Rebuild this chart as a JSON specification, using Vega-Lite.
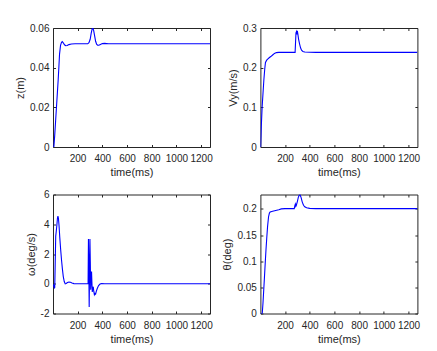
{
  "$schema": "https://vega.github.io/schema/vega-lite/v6.json",
  "background": "white",
  "padding": {"left": 14, "top": 22, "right": 5, "bottom": 5},
  "bounds": "flush",
  "columns": 2,
  "spacing": {"row": 47.5, "column": 50.4},
  "datasets": {
    "z": [
      {"t": 1, "v": 0}, {"t": 8, "v": 0}, {"t": 15, "v": 0.006}, {"t": 22, "v": 0.013}, {"t": 30, "v": 0.021},
      {"t": 37, "v": 0.028}, {"t": 43, "v": 0.034}, {"t": 49, "v": 0.041}, {"t": 54, "v": 0.047}, {"t": 62, "v": 0.0514},
      {"t": 70, "v": 0.053}, {"t": 76, "v": 0.0533}, {"t": 84, "v": 0.0527}, {"t": 94, "v": 0.0517}, {"t": 104, "v": 0.0512},
      {"t": 116, "v": 0.0513}, {"t": 130, "v": 0.0518}, {"t": 150, "v": 0.0521}, {"t": 180, "v": 0.0522}, {"t": 282, "v": 0.0522},
      {"t": 292, "v": 0.0528}, {"t": 302, "v": 0.0545}, {"t": 310, "v": 0.0575}, {"t": 318, "v": 0.0598}, {"t": 324, "v": 0.0601},
      {"t": 330, "v": 0.059}, {"t": 338, "v": 0.0562}, {"t": 346, "v": 0.0535}, {"t": 354, "v": 0.052}, {"t": 362, "v": 0.0515},
      {"t": 372, "v": 0.0515}, {"t": 385, "v": 0.0519}, {"t": 400, "v": 0.0523}, {"t": 420, "v": 0.0524}, {"t": 450, "v": 0.0522},
      {"t": 1272, "v": 0.0522}
    ],
    "vy": [
      {"t": 1, "v": 0}, {"t": 3, "v": 0}, {"t": 8, "v": 0.05}, {"t": 15, "v": 0.1}, {"t": 22, "v": 0.135},
      {"t": 29, "v": 0.169}, {"t": 36, "v": 0.196}, {"t": 42, "v": 0.213}, {"t": 52, "v": 0.219}, {"t": 62, "v": 0.222},
      {"t": 72, "v": 0.225}, {"t": 85, "v": 0.228}, {"t": 100, "v": 0.232}, {"t": 115, "v": 0.236}, {"t": 130, "v": 0.238},
      {"t": 150, "v": 0.2385}, {"t": 282, "v": 0.2385}, {"t": 285, "v": 0.26}, {"t": 289, "v": 0.288}, {"t": 293, "v": 0.291},
      {"t": 296, "v": 0.284}, {"t": 300, "v": 0.293}, {"t": 304, "v": 0.285}, {"t": 310, "v": 0.272}, {"t": 318, "v": 0.26},
      {"t": 326, "v": 0.25}, {"t": 334, "v": 0.244}, {"t": 345, "v": 0.241}, {"t": 360, "v": 0.2395}, {"t": 400, "v": 0.239},
      {"t": 450, "v": 0.2385}, {"t": 1272, "v": 0.2385}
    ],
    "w": [
      {"t": 1, "v": -0.05}, {"t": 6, "v": -0.1}, {"t": 12, "v": -0.28}, {"t": 15, "v": -0.25}, {"t": 18, "v": 1.0},
      {"t": 23, "v": 3.2}, {"t": 27, "v": 3.5}, {"t": 32, "v": 3.9}, {"t": 37, "v": 4.4}, {"t": 41, "v": 4.55},
      {"t": 45, "v": 4.4}, {"t": 50, "v": 3.9}, {"t": 56, "v": 3.1}, {"t": 63, "v": 2.3}, {"t": 70, "v": 1.6},
      {"t": 77, "v": 1.0}, {"t": 84, "v": 0.5}, {"t": 92, "v": 0.15}, {"t": 100, "v": 0.0}, {"t": 108, "v": 0.02},
      {"t": 118, "v": 0.08}, {"t": 130, "v": 0.12}, {"t": 142, "v": 0.1}, {"t": 155, "v": 0.05}, {"t": 170, "v": 0.01},
      {"t": 190, "v": 0}, {"t": 285, "v": 0}, {"t": 288, "v": 3.0}, {"t": 291, "v": 1.0}, {"t": 294, "v": -1.56},
      {"t": 297, "v": 0.8}, {"t": 300, "v": 3.0}, {"t": 303, "v": 1.5}, {"t": 306, "v": -0.4}, {"t": 310, "v": 0.3},
      {"t": 313, "v": 0.83}, {"t": 316, "v": 0.1}, {"t": 319, "v": -0.55}, {"t": 323, "v": -0.3}, {"t": 327, "v": -0.2},
      {"t": 331, "v": -0.5}, {"t": 336, "v": -0.74}, {"t": 341, "v": -0.65}, {"t": 346, "v": -0.7}, {"t": 352, "v": -0.5},
      {"t": 360, "v": -0.3}, {"t": 370, "v": -0.12}, {"t": 382, "v": -0.02}, {"t": 395, "v": 0.02}, {"t": 420, "v": 0},
      {"t": 1272, "v": 0}
    ],
    "th": [
      {"t": 1, "v": 0}, {"t": 16, "v": 0}, {"t": 22, "v": 0.02}, {"t": 28, "v": 0.045}, {"t": 34, "v": 0.07},
      {"t": 40, "v": 0.096}, {"t": 46, "v": 0.121}, {"t": 52, "v": 0.143}, {"t": 59, "v": 0.166}, {"t": 67, "v": 0.185},
      {"t": 74, "v": 0.192}, {"t": 80, "v": 0.194}, {"t": 100, "v": 0.1955}, {"t": 125, "v": 0.197}, {"t": 150, "v": 0.1985},
      {"t": 170, "v": 0.2}, {"t": 200, "v": 0.2005}, {"t": 275, "v": 0.2005}, {"t": 280, "v": 0.206}, {"t": 284, "v": 0.209},
      {"t": 288, "v": 0.205}, {"t": 292, "v": 0.207}, {"t": 300, "v": 0.214}, {"t": 308, "v": 0.222}, {"t": 316, "v": 0.2265},
      {"t": 322, "v": 0.227}, {"t": 330, "v": 0.222}, {"t": 340, "v": 0.213}, {"t": 350, "v": 0.207}, {"t": 360, "v": 0.204},
      {"t": 375, "v": 0.202}, {"t": 400, "v": 0.201}, {"t": 450, "v": 0.2005}, {"t": 1272, "v": 0.2005}
    ]
  },
  "concat": [
    {
      "width": 157, "height": 119,
      "data": {"name": "z"},
      "layer": [
        {"mark": {"type": "line", "color": "#0000ff", "strokeWidth": 1.1, "clip": true},
         "encoding": {
           "x": {"field": "t", "type": "quantitative", "scale": {"domain": [1, 1272], "nice": false, "zero": false},
                 "axis": {"values": [200, 400, 600, 800, 1000, 1200], "title": "time(ms)", "format": "d"}},
           "y": {"field": "v", "type": "quantitative", "scale": {"domain": [0, 0.0602], "nice": false, "zero": false},
                 "axis": {"values": [0, 0.02, 0.04, 0.06], "title": "z(m)", "format": "~g"}}
         }},
        {"mark": {"type": "line", "opacity": 0},
         "encoding": {
           "x": {"field": "t", "type": "quantitative", "axis": {"orient": "top", "values": [200, 400, 600, 800, 1000, 1200], "labels": false, "title": null}},
           "y": {"field": "v", "type": "quantitative", "axis": {"orient": "right", "values": [0, 0.02, 0.04, 0.06], "labels": false, "title": null}}
         }}
      ],
      "resolve": {"axis": {"x": "independent", "y": "independent"}}
    },
    {
      "width": 157, "height": 119,
      "data": {"name": "vy"},
      "layer": [
        {"mark": {"type": "line", "color": "#0000ff", "strokeWidth": 1.1, "clip": true},
         "encoding": {
           "x": {"field": "t", "type": "quantitative", "scale": {"domain": [1, 1272], "nice": false, "zero": false},
                 "axis": {"values": [200, 400, 600, 800, 1000, 1200], "title": "time(ms)", "format": "d"}},
           "y": {"field": "v", "type": "quantitative", "scale": {"domain": [0, 0.3], "nice": false, "zero": false},
                 "axis": {"values": [0, 0.1, 0.2, 0.3], "title": "Vy(m/s)", "format": "~g"}}
         }},
        {"mark": {"type": "line", "opacity": 0},
         "encoding": {
           "x": {"field": "t", "type": "quantitative", "axis": {"orient": "top", "values": [200, 400, 600, 800, 1000, 1200], "labels": false, "title": null}},
           "y": {"field": "v", "type": "quantitative", "axis": {"orient": "right", "values": [0, 0.1, 0.2, 0.3], "labels": false, "title": null}}
         }}
      ],
      "resolve": {"axis": {"x": "independent", "y": "independent"}}
    },
    {
      "width": 157, "height": 119,
      "data": {"name": "w"},
      "layer": [
        {"mark": {"type": "line", "color": "#0000ff", "strokeWidth": 1.1, "clip": true},
         "encoding": {
           "x": {"field": "t", "type": "quantitative", "scale": {"domain": [1, 1272], "nice": false, "zero": false},
                 "axis": {"values": [200, 400, 600, 800, 1000, 1200], "title": "time(ms)", "format": "d"}},
           "y": {"field": "v", "type": "quantitative", "scale": {"domain": [-2, 6], "nice": false, "zero": false},
                 "axis": {"values": [-2, 0, 2, 4, 6], "title": "ω(deg/s)", "format": "~g", "labelExpr": "replace(datum.label, '−', '-')"}}
         }},
        {"mark": {"type": "line", "opacity": 0},
         "encoding": {
           "x": {"field": "t", "type": "quantitative", "axis": {"orient": "top", "values": [200, 400, 600, 800, 1000, 1200], "labels": false, "title": null}},
           "y": {"field": "v", "type": "quantitative", "axis": {"orient": "right", "values": [-2, 0, 2, 4, 6], "labels": false, "title": null}}
         }}
      ],
      "resolve": {"axis": {"x": "independent", "y": "independent"}}
    },
    {
      "width": 157, "height": 119,
      "data": {"name": "th"},
      "layer": [
        {"mark": {"type": "line", "color": "#0000ff", "strokeWidth": 1.1, "clip": true},
         "encoding": {
           "x": {"field": "t", "type": "quantitative", "scale": {"domain": [1, 1272], "nice": false, "zero": false},
                 "axis": {"values": [200, 400, 600, 800, 1000, 1200], "title": "time(ms)", "format": "d"}},
           "y": {"field": "v", "type": "quantitative", "scale": {"domain": [0, 0.2275], "nice": false, "zero": false},
                 "axis": {"values": [0, 0.05, 0.1, 0.15, 0.2], "title": "θ(deg)", "format": "~g"}}
         }},
        {"mark": {"type": "line", "opacity": 0},
         "encoding": {
           "x": {"field": "t", "type": "quantitative", "axis": {"orient": "top", "values": [200, 400, 600, 800, 1000, 1200], "labels": false, "title": null}},
           "y": {"field": "v", "type": "quantitative", "axis": {"orient": "right", "values": [0, 0.05, 0.1, 0.15, 0.2], "labels": false, "title": null}}
         }}
      ],
      "resolve": {"axis": {"x": "independent", "y": "independent"}}
    }
  ],
  "config": {
    "font": "Liberation Sans",
    "view": {"stroke": "#262626", "strokeWidth": 1},
    "axis": {
      "grid": false, "domain": false,
      "tickSize": -2.5, "tickColor": "#262626", "tickWidth": 1,
      "labelOverlap": false, "labelFlush": false,
      "labelFont": "Liberation Sans", "labelFontSize": 10, "labelColor": "#262626",
      "titleFont": "Liberation Sans", "titleFontSize": 11, "titleFontWeight": "normal", "titleColor": "#262626"
    },
    "axisX": {"labelPadding": 9, "titlePadding": 3},
    "axisY": {"labelPadding": 6.5, "titlePadding": 4}
  }
}
